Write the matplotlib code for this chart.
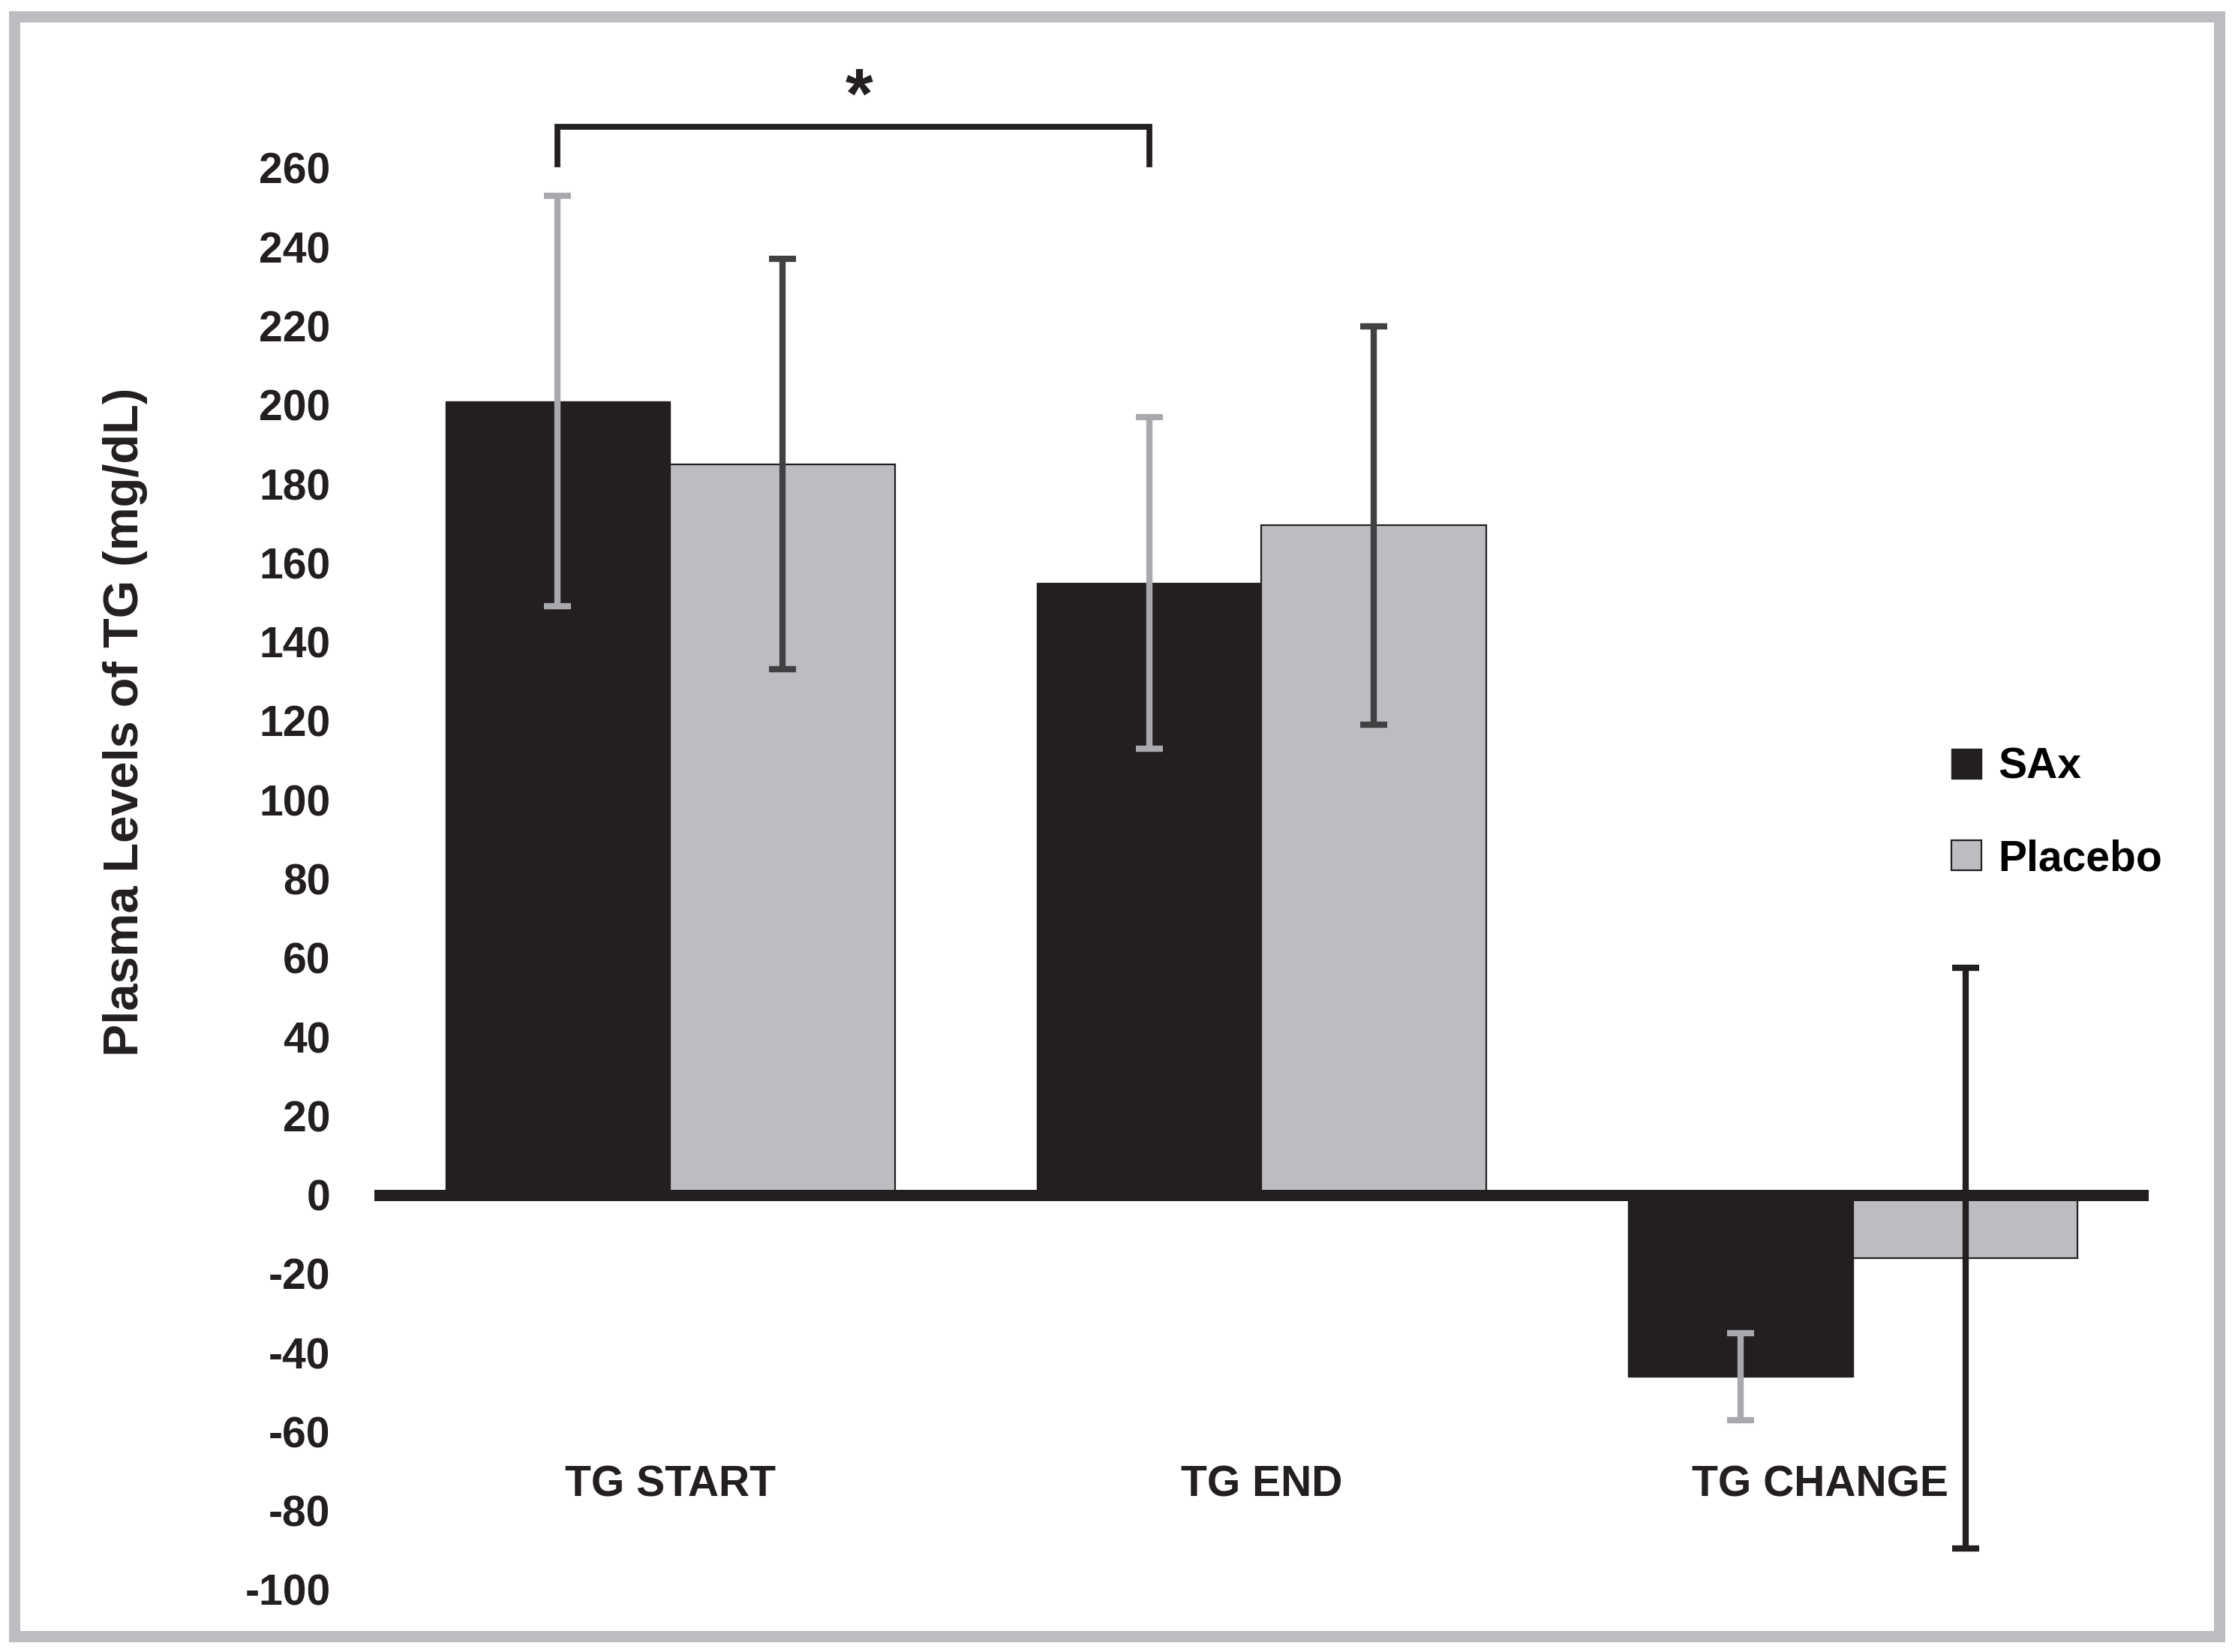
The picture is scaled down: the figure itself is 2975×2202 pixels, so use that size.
import numpy as np
import matplotlib
matplotlib.use("Agg")
import matplotlib.pyplot as plt
from matplotlib.patches import Rectangle

plt.rcParams['font.family'] = ['Liberation Sans', 'DejaVu Sans']
plt.rcParams['font.weight'] = 'bold'

# data
groups = ["TG START", "TG END", "TG CHANGE"]
sax_mean = [201, 155, -46]
sax_err = [52, 42, 11]
placebo_mean = [185, 169.5, -16]
placebo_err = [52, 50.5, 73.5]
yticks = list(range(-100, 261, 20))

sax_color = '#231f20'
placebo_color = '#bcbdc0'
light_err = '#a7a9ac'
dark_err = ['#414042', '#414042', '#231f20']

fig = plt.figure(figsize=(14.875, 11.01), dpi=200)
ax = fig.add_axes([0.1677, 0.0377, 0.795, 0.8606])

x = np.arange(len(groups))
w = 0.38

ax.bar(x - w / 2, sax_mean, w, color=sax_color, edgecolor=sax_color, linewidth=0.5,
       label='SAx', zorder=2)
ax.bar(x + w / 2, placebo_mean, w, color=placebo_color, edgecolor='#231f20', linewidth=0.8,
       label='Placebo', zorder=2)

ax.axhline(0, color='#231f20', lw=5.4, zorder=3)

ax.errorbar(x - w / 2, sax_mean, yerr=sax_err, fmt='none', ecolor=light_err,
            elinewidth=3, capsize=6.5, capthick=3, zorder=4)
for i in range(len(groups)):
    ax.errorbar(x[i] + w / 2, placebo_mean[i], yerr=placebo_err[i], fmt='none',
                ecolor=dark_err[i], elinewidth=3, capsize=6.5, capthick=3, zorder=4)

# significance bracket between SAx start and SAx end
bx0 = x[0] - w / 2
bx1 = x[1] - w / 2
ax.plot([bx0, bx0, bx1, bx1], [261, 270.5, 270.5, 261], color='#231f20', lw=2.8,
        clip_on=False, solid_joinstyle='miter')
ax.text((bx0 + bx1) / 2 + 0.01, 277.5, '*', ha='center', va='center', fontsize=34,
        fontweight='bold', color='#231f20', clip_on=False)

# category labels sit inside the plot area
for i, g in enumerate(groups):
    xi = x[i] if i < 2 else x[i] - 0.055
    ax.text(xi, -73.5, g, ha='center', va='center', fontsize=20.5, fontweight='bold',
            color='#231f20')

ax.set_xlim(-0.5, 2.5)
ax.set_ylim(-100, 260)
ax.set_yticks(yticks)
ax.set_yticklabels([str(t) for t in yticks], fontsize=20.5, fontweight='bold', color='#231f20')
ax.tick_params(axis='y', length=0, pad=21)
ax.set_xticks([])
for s in ax.spines.values():
    s.set_visible(False)

fig.text(0.056, 0.563, 'Plasma Levels of TG (mg/dL)', rotation=90, ha='center', va='center',
         fontsize=23.4, fontweight='bold', color='#231f20')

ax.legend(loc='upper left', bbox_to_anchor=(2601 / 2975, 1 - 996 / 2202),
          bbox_transform=fig.transFigure, frameon=False, fontsize=20.5,
          handlelength=0.7, handleheight=0.7, handletextpad=0.4, labelspacing=1.2,
          borderpad=0, borderaxespad=0)

# grey frame around the whole figure
fig.patches.append(Rectangle((19 / 2975, 1 - 2180.5 / 2202), (2957.5 - 19) / 2975,
                             (2180.5 - 21.5) / 2202, transform=fig.transFigure,
                             fill=False, edgecolor='#bcbdc0', linewidth=5.4))

fig.savefig('out.png', dpi=200, facecolor='white')
